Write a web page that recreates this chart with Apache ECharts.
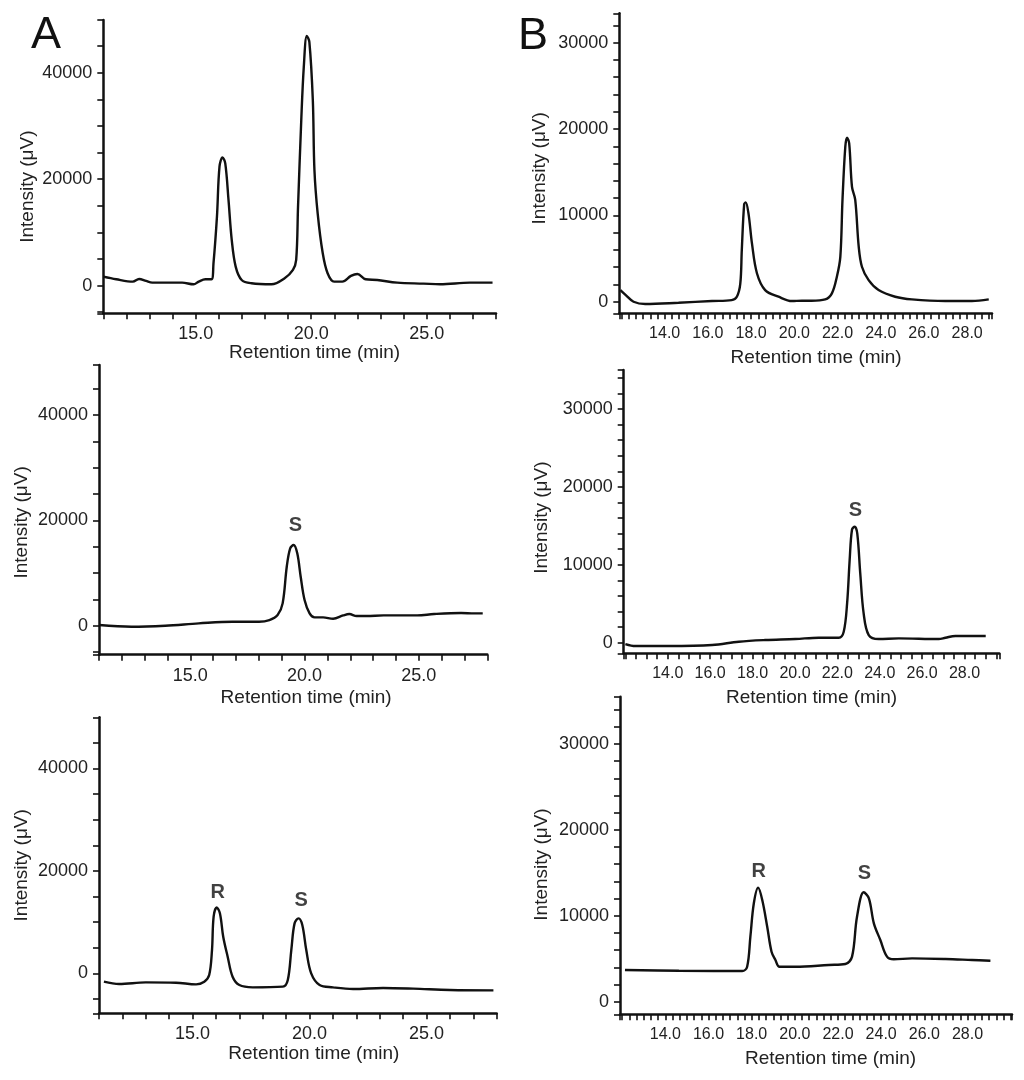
<!DOCTYPE html>
<html>
<head>
<meta charset="utf-8">
<title>Chiral HPLC chromatograms</title>
<script src="https://cdn.jsdelivr.net/npm/echarts@6/dist/echarts.min.js"></script>
<style>
html, body { margin: 0; padding: 0; background: #fff; }
#chart { width: 1024px; height: 1080px; }
</style>
</head>
<body>
<div id="chart"></div>
<script>
// [retention time (min), intensity (µV)]
var traceA1 = [[11.0,1690],[11.56,1190],[12.28,750],[12.55,1250],[12.85,880],[13.12,560],[14.41,560],[14.91,250],[15.13,750],[15.42,1190],[15.68,1190],[15.77,4190],[15.92,12960],[16.03,22350],[16.16,24100],[16.28,22970],[16.42,16090],[16.56,8580],[16.73,3570],[16.99,1060],[17.42,440],[18.28,250],[18.85,1380],[19.21,2940],[19.35,4820],[19.43,14840],[19.57,31110],[19.68,41130],[19.81,46900],[19.92,45800],[20.07,34870],[20.14,21720],[20.28,13580],[20.5,6070],[20.71,2320],[20.99,750],[21.35,750],[21.72,1820],[22.0,2190],[22.36,1190],[22.86,1060],[23.72,560],[24.86,380],[25.58,250],[26.87,560],[27.85,560]];
var traceA2 = [[11.0,130],[12.42,-190],[13.9,0],[15.37,440],[16.84,760],[18.01,760],[18.46,1080],[18.82,2030],[19.04,4240],[19.22,11200],[19.37,14690],[19.52,15320],[19.68,13740],[19.83,9300],[20.0,4870],[20.22,2340],[20.44,1580],[20.81,1580],[21.25,1330],[21.69,1960],[21.96,2220],[22.28,1840],[22.72,1840],[23.46,1960],[24.93,1960],[25.67,2220],[26.85,2410],[27.43,2340],[27.8,2340]];
var traceA3 = [[11.21,-1630],[11.86,-2080],[13.0,-1760],[14.29,-1820],[15.15,-2150],[15.5,-1630],[15.71,-330],[15.83,4550],[15.9,11060],[16.03,12880],[16.17,11710],[16.31,7150],[16.5,3250],[16.71,-650],[17.0,-2280],[17.57,-2730],[18.86,-2600],[19.07,-1300],[19.22,4550],[19.36,9760],[19.53,10730],[19.69,9430],[19.86,4550],[20.07,0],[20.43,-2280],[21.0,-2730],[21.86,-3060],[23.14,-2860],[24.43,-2990],[26.0,-3250],[27.86,-3320]];
var traceB1 = [[11.95,1350],[12.2,770],[12.56,0],[13.1,-270],[14.64,-120],[16.19,80],[17.1,190],[17.34,580],[17.5,2100],[17.57,6000],[17.68,11300],[17.75,11500],[17.88,10200],[18.04,6750],[18.27,3300],[18.65,1350],[19.27,580],[19.89,80],[20.35,120],[20.8,120],[21.43,270],[21.74,970],[21.97,2900],[22.13,5200],[22.23,11800],[22.36,17950],[22.44,19000],[22.54,18350],[22.67,13300],[22.82,11800],[22.98,6400],[23.13,4050],[23.44,2500],[23.9,1350],[24.67,580],[25.44,270],[26.99,80],[28.22,80],[29.0,270]];
var traceB2 = [[12.0,-170],[12.47,-430],[14.05,-430],[16.09,-300],[17.35,130],[18.6,340],[20.02,470],[21.12,640],[22.07,640],[22.3,1400],[22.46,5050],[22.58,10600],[22.69,14500],[22.82,14900],[22.94,14000],[23.08,8900],[23.24,3770],[23.48,980],[23.95,470],[24.9,560],[26.78,470],[27.1,640],[27.57,860],[29.0,860]];
var traceB3 = [[12.13,3690],[14.63,3600],[17.56,3570],[17.79,4070],[17.94,7570],[18.1,11450],[18.3,13270],[18.49,11830],[18.72,8730],[18.92,5820],[19.1,4850],[19.29,4070],[20.03,4070],[21.57,4270],[22.34,4380],[22.65,5240],[22.88,9890],[23.19,12730],[23.43,12030],[23.66,9120],[23.96,7180],[24.27,5240],[24.58,4930],[25.43,5040],[26.97,4970],[28.21,4850],[29.06,4770]];

// enantiomer tags written above the peaks
var peaksA2 = [{name: 'S', value: [19.6, 19000]}];
var peaksA3 = [{name: 'R', value: [16.07, 15730]}, {name: 'S', value: [19.64, 14170]}];
var peaksB2 = [{name: 'S', value: [22.85, 16950]}];
var peaksB3 = [{name: 'R', value: [18.33, 15130]}, {name: 'S', value: [23.22, 14870]}];

var xTitle = 'Retention time (min)';
var yTitle = 'Intensity (μV)';
var panelLetters = ['A', 'B'];

var chart = echarts.init(document.getElementById('chart'));
var font = '"Liberation Sans", Arial, sans-serif';
var ink = '#111111';
var textInk = '#222222';

// box = [left, top, width, height] in px
var panels = [
	{box: [103.3, 20, 392.7, 293.3], x: [11, 28], xStep: 5, xMinor: 5, xFirst: 15, y: [-5200, 49900], yStep: 20000,
		data: traceA1, peaks: [], xFs: 18, yGap: 66, xGap: 30, yPad: 40, xPad: 30},
	{box: [99, 365, 388.3, 289.7], x: [11, 28], xStep: 5, xMinor: 5, xFirst: 15, y: [-5500, 49500], yStep: 20000,
		data: traceA2, peaks: peaksA2, xFs: 18, yGap: 68, xGap: 34, yPad: 25, xPad: 26},
	{box: [99, 717.3, 397.7, 296], x: [11, 28], xStep: 5, xMinor: 5, xFirst: 15, y: [-7800, 50000], yStep: 20000,
		data: traceA3, peaks: peaksA3, xFs: 18, yGap: 68, xGap: 31, yPad: 0, xPad: 32},
	{box: [619.3, 13.3, 372.7, 300], x: [11.9, 29.15], xStep: 2, xMinor: 6, xFirst: 14, y: [-1340, 33400], yStep: 10000,
		data: traceB1, peaks: [], xFs: 16, yGap: 70, xGap: 35, yPad: 10, xPad: 21},
	{box: [623.7, 370, 375.6, 283.3], x: [11.92, 29.64], xStep: 2, xMinor: 4, xFirst: 14, y: [-1360, 35000], yStep: 10000,
		data: traceB2, peaks: peaksB2, xFs: 16, yGap: 72, xGap: 35, yPad: 12, xPad: 0},
	{box: [620, 696.7, 392, 317.6], x: [11.9, 30.06], xStep: 2, xMinor: 6, xFirst: 14, y: [-1470, 35500], yStep: 10000,
		data: traceB3, peaks: peaksB3, xFs: 16, yGap: 69, xGap: 35, yPad: 18, xPad: 29}
];

var grids = [], xAxes = [], yAxes = [], series = [];

panels.forEach(function (p, i) {
	grids.push({left: p.box[0], top: p.box[1], width: p.box[2], height: p.box[3], outerBoundsMode: 'none', containLabel: false});

	xAxes.push({
		type: 'value', gridIndex: i, min: p.x[0], max: p.x[1],
		minInterval: p.xStep, maxInterval: p.xStep,
		axisLine: {show: true, onZero: false, lineStyle: {color: ink, width: 2.5}},
		axisTick: {show: true, inside: false, length: 6, lineStyle: {color: ink, width: 1.6}},
		minorTick: {show: true, splitNumber: p.xMinor, length: 6, lineStyle: {color: ink, width: 1.6}},
		splitLine: {show: false}, minorSplitLine: {show: false},
		axisLabel: {
			showMinLabel: false, showMaxLabel: false, margin: 12,
			color: textInk, fontSize: p.xFs, fontFamily: font,
			formatter: function (v) {
				return (v >= p.xFirst - 0.01 && v <= 28.01) ? v.toFixed(1) : '';
			}
		},
		name: xTitle, nameLocation: 'middle', nameGap: p.xGap, nameMoveOverlap: false,
		nameTextStyle: {color: textInk, fontSize: 19, fontFamily: font, padding: [0, 0, 0, p.xPad]}
	});

	yAxes.push({
		type: 'value', gridIndex: i, min: p.y[0], max: p.y[1],
		minInterval: p.yStep, maxInterval: p.yStep,
		axisLine: {show: true, onZero: false, lineStyle: {color: ink, width: 2.5}},
		axisTick: {show: true, inside: false, length: 6, lineStyle: {color: ink, width: 1.6}},
		minorTick: {show: true, splitNumber: p.yStep === 20000 ? 4 : 5, length: 6, lineStyle: {color: ink, width: 1.6}},
		splitLine: {show: false}, minorSplitLine: {show: false},
		axisLabel: {
			showMinLabel: false, showMaxLabel: false, margin: 11,
			color: textInk, fontSize: 18, fontFamily: font,
			formatter: function (v) {
				return (v >= 0 && v % p.yStep === 0) ? String(v) : '';
			}
		},
		name: yTitle, nameLocation: 'middle', nameRotate: 90, nameGap: p.yGap, nameMoveOverlap: false,
		nameTextStyle: {color: textInk, fontSize: 19, fontFamily: font, padding: [0, p.yPad, 0, 0]}
	});

	series.push({
		type: 'line', xAxisIndex: i, yAxisIndex: i, data: p.data,
		showSymbol: false, smooth: 0.35, silent: true,
		lineStyle: {color: ink, width: 2.4}
	});

	if (p.peaks.length) {
		series.push({
			type: 'scatter', xAxisIndex: i, yAxisIndex: i, data: p.peaks,
			symbol: 'circle', symbolSize: 1, silent: true,
			itemStyle: {color: 'rgba(0,0,0,0)'},
			label: {show: true, position: 'inside', formatter: '{b}', color: ink,
				fontSize: 20, fontWeight: 'bold', fontFamily: font}
		});
	}
});

var option = {
	animation: false,
	backgroundColor: '#ffffff',
	grid: grids,
	xAxis: xAxes,
	yAxis: yAxes,
	series: series,
	graphic: [
		{type: 'text', x: 46, y: 36, style: {text: panelLetters[0], fill: ink, font: '45px "Liberation Sans", Arial, sans-serif', textAlign: 'center', textVerticalAlign: 'middle'}},
		{type: 'text', x: 533, y: 37, style: {text: panelLetters[1], fill: ink, font: '45px "Liberation Sans", Arial, sans-serif', textAlign: 'center', textVerticalAlign: 'middle'}}
	]
};

chart.setOption(option);
</script>
</body>
</html>
